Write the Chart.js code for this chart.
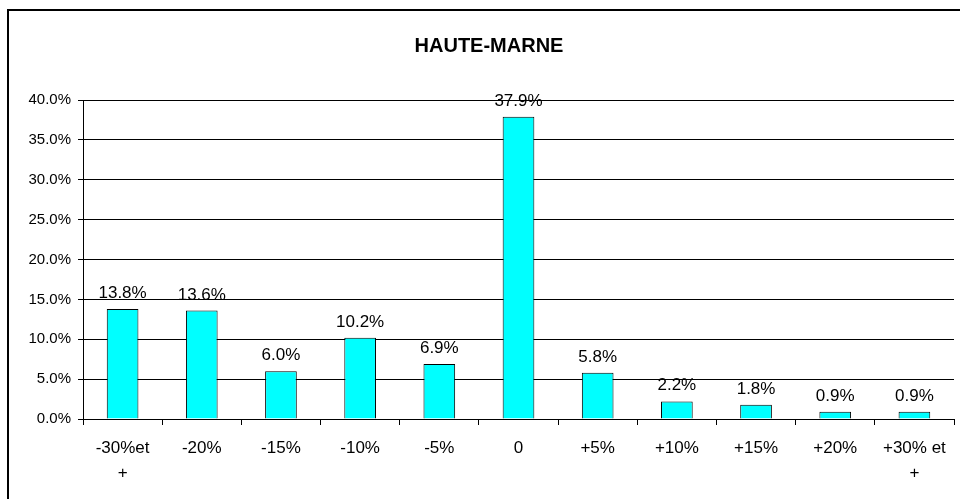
<!DOCTYPE html>
<html><head><meta charset="utf-8">
<script src="https://cdn.jsdelivr.net/npm/chart.js@4/dist/chart.umd.min.js"></script>
<style>
html,body{margin:0;padding:0;background:#fff;}
#wrap{position:relative;width:960px;height:499px;overflow:hidden;background:#fff;}
#frame{position:absolute;left:7px;top:9px;width:1000px;height:1000px;border:2px solid #000;}
canvas{position:absolute;left:0;top:0;}
</style></head><body>
<div id="wrap"><div id="frame"></div><canvas id="c" width="960" height="499"></canvas></div>
<script>
const chartTitle = 'HAUTE-MARNE';
const categories = [['-30%et','+'],'-20%','-15%','-10%','-5%','0','+5%','+10%','+15%','+20%',['+30% et','+']];
const values = [13.8,13.6,6.0,10.2,6.9,37.9,5.8,2.2,1.8,0.9,0.9];
const yMin = 0, yMax = 40, yStep = 5;

const FONT = '"Liberation Sans", Arial, sans-serif';

const labelPlugin = {
  id: 'labels',
  afterDatasetsDraw(chart) {
    const ctx = chart.ctx;
    const meta = chart.getDatasetMeta(0);
    ctx.save();
    ctx.font = '17px ' + FONT;
    ctx.fillStyle = '#000';
    ctx.textAlign = 'center';
    ctx.textBaseline = 'alphabetic';
    meta.data.forEach((bar, i) => {
      ctx.fillText(values[i].toFixed(1) + '%', bar.x, bar.y - 11);
    });
    ctx.restore();
  },
  afterDraw(chart) {
    const ctx = chart.ctx;
    ctx.save();
    ctx.font = 'bold 20px ' + FONT;
    ctx.fillStyle = '#000';
    ctx.textAlign = 'center';
    ctx.textBaseline = 'alphabetic';
    ctx.fillText(chartTitle, 489, 52);
    ctx.restore();
  }
};

new Chart(document.getElementById('c'), {
  type: 'bar',
  data: {
    labels: categories,
    datasets: [{
      data: values,
      backgroundColor: '#00FFFF',
      borderColor: '#000',
      borderWidth: 1,
      barPercentage: 0.4,
      categoryPercentage: 1.0
    }]
  },
  plugins: [labelPlugin],
  options: {
    responsive: false,
    animation: false,
    devicePixelRatio: 1,
    layout: { padding: { left: 0, right: 6, top: 100, bottom: 0 } },
    plugins: { legend: { display: false }, tooltip: { enabled: false }, title: { display: false } },
    scales: {
      y: {
        min: yMin, max: yMax,
        ticks: { stepSize: yStep, callback: v => v.toFixed(1) + '%', color: '#000', font: { size: 15, family: FONT }, padding: 7 },
        grid: { color: '#000', lineWidth: 1, tickLength: 5 },
        border: { color: '#000', width: 1 },
        afterFit: s => { s.width = 83; }
      },
      x: {
        offset: true,
        ticks: { color: '#000', font: { size: 17, family: FONT, lineHeight: 1.47 }, maxRotation: 0, minRotation: 0, autoSkip: false, padding: 11 },
        grid: { drawOnChartArea: false, offset: true, color: '#000', tickLength: 6 },
        border: { color: '#000', width: 1 },
        afterFit: s => { s.height = 80; }
      }
    }
  }
});
</script>
</body></html>
